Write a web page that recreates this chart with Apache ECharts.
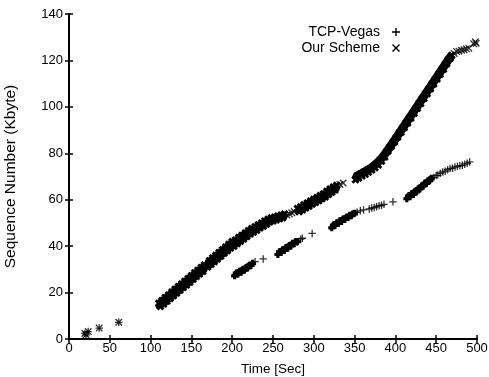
<!DOCTYPE html>
<html>
<head>
<meta charset="utf-8">
<script src="https://cdn.jsdelivr.net/npm/echarts@6/dist/echarts.min.js"></script>
<style>
    html,body{margin:0;padding:0;background:#fff;}
    #myChart{width:489px;height:377px;}
</style>
</head>
<body>
<div id="myChart"></div>
<script>
    var seriesNames = ['TCP-Vegas', 'Our Scheme'];
    var xTicks = [0, 50, 100, 150, 200, 250, 300, 350, 400, 450, 500];
    var yTicks = [0, 20, 40, 60, 80, 100, 120, 140];

    // [time (sec), sequence number (Kbyte)]
    // dense runs where the marks merge into a band, '-' = break between runs
    var vegasBand = [
        [203,27.2],[205,28.4],[207,28.0],[209,29.2],[211,28.8],[213,30.0],[215,29.6],[217,30.8],
        [219,30.6],[221,31.8],[223,31.7],[225,32.6],[240,'-'],
        [256,36.4],[258,37.6],[260,37.3],[262,38.5],[264,38.2],[266,39.4],[268,39.1],[270,40.3],
        [272,40.1],[274,41.2],[276,41.0],[278,42.0],[280,41.9],[300,'-'],
        [322,47.9],[324,49.1],[326,48.9],[328,50.0],[330,49.8],[332,50.9],[334,50.6],[336,51.7],
        [338,51.5],[340,52.5],[342,52.3],[344,53.3],[346,53.1],[348,54.0],[350,54.2],[400,'-'],
        [414,60.4],[416,61.6],[418,61.3],[420,62.6],[422,62.3],[424,63.6],[426,63.4],[428,64.7],
        [430,64.6],[432,65.9],[434,65.8],[436,67.1],[438,67.0],[440,68.2],[442,68.2],[444,69.3]
    ];
    // single marks
    var vegasMarks = [
        [19.5,2.4],[21,1.8],[23.5,3.2],[37,4.7],[61,7.2],
        [228,33.3],[238,34.5],[284,43.0],[286,43.4],[298,45.5],
        [353,54.6],[357,55.2],[361,55.6],[368,56.0],[371,56.4],[374,56.6],[377,57.0],[380,57.4],
        [383,57.6],[386,58.0],[397,59.1],
        [447,69.6],[450,70.4],[452,70.6],[455,71.4],[458,71.9],[461,72.3],[464,72.9],[467,73.4],
        [470,73.6],[473,74.1],[476,74.4],[479,74.6],[482,74.8],[485,75.3],[488,75.7],[491,76.3]
    ];

    var schemeBand = [
        [110,15.4],[112,14.0],[114,16.6],[116,15.1],[118,17.9],[120,16.3],[122,19.0],[124,17.4],
        [126,20.2],[128,18.6],[130,21.4],[132,19.8],[134,22.6],[136,21.0],[138,23.7],[140,22.2],
        [142,24.9],[144,23.3],[146,26.1],[148,24.5],[150,27.3],[152,25.7],[154,28.5],[156,26.9],
        [158,29.6],[160,28.0],[162,30.8],[164,29.2],[166,31.9],
        [170,31.0],[172,33.7],[174,32.2],[176,34.9],[178,33.3],[180,36.1],[182,34.5],[184,37.3],
        [186,35.7],[188,38.4],[190,36.9],[192,39.6],[194,38.0],[196,40.8],[198,39.2],[200,42.0],
        [202,40.0],[204,42.7],[206,41.0],[208,43.7],[210,42.1],[212,44.7],[214,43.1],[216,45.7],
        [218,44.2],[220,46.7],[222,45.2],[224,47.6],[226,46.0],[228,48.4],[230,46.9],[232,49.2],
        [234,47.8],[236,50.0],[238,48.6],[240,50.8],[242,49.4],[244,51.6],[246,50.4],[248,52.2],
        [250,50.8],[252,52.6],[254,51.3],[256,53.0],[258,51.8],[260,53.4],[262,52.2],[264,53.8],[270,'-'],
        [280,56.2],[282,54.8],[284,57.0],[286,55.6],[288,57.8],[290,56.4],[292,58.6],[294,57.2],
        [296,59.4],[298,58.0],[300,60.2],[302,58.8],[304,61.0],[306,59.6],[308,61.8],[310,60.4],
        [312,62.6],[314,61.2],[316,63.6],[318,62.2],[320,64.6],[322,63.2],[324,65.5],[326,64.2],
        [328,66.2],[340,'-'],
        [351,68.6],[353,70.2],[355,69.4],[357,71.0],[359,70.2],[361,71.8],[363,71.0],[365,72.6],
        [367,71.8],[369,73.4],[371,72.8],[373,74.4],[375,73.8],[377,75.6],[379,75.0],[381,77.0],
        [383,76.6],[385,78.6],[387,78.4],
        [389,80.6],[391,81.0],[393,82.6],[395,83.0],[397,84.6],[399,85.0],[401,86.7],[403,87.0],
        [405,88.8],[407,89.1],[409,90.9],[411,91.1],[413,93.0],[415,93.1],[417,95.1],[419,95.2],
        [421,97.2],[423,97.3],[425,99.3],[427,99.4],[429,101.4],[431,101.5],[433,103.5],[435,103.6],
        [437,105.6],[439,105.7],[441,107.7],[443,107.8],[445,109.8],[447,109.9],[449,111.9],[451,112.0],
        [453,114.0],[455,114.1],[457,116.1],[459,116.2],[461,118.2],[463,118.6],[465,120.4],[467,120.8],
        [469,122.2]
    ];
    var schemeMarks = [
        [19.5,2.4],[21,1.8],[23.5,3.2],[37,4.7],[61,7.2],
        [267,53.4],[270,53.9],[273,54.4],[276,54.9],
        [332,66.6],[336,67.2],
        [472,123.0],[475,123.8],[478,124.0],[481,124.4],[484,124.6],[487,125.0],[490,125.3],
        [496,127.2],[498,128.0],[499,127.4]
    ];

    // filled plus / cross outlines, 8x8 box
    var fatPlus = 'path://M2.2,0H5.8V2.2H8V5.8H5.8V8H2.2V5.8H0V2.2H2.2Z';
    var fatCross = 'path://M0,2L2,0L4,2L6,0L8,2L6,4L8,6L6,8L4,6L2,8L0,6L2,4Z';
    var thinPlus = 'path://M3.3,0H4.7V3.3H8V4.7H4.7V8H3.3V4.7H0V3.3H3.3Z';
    var thinCross = 'path://M0,1L1,0L4,3L7,0L8,1L5,4L8,7L7,8L4,5L1,8L0,7L3,4Z';

    var font = 'Liberation Sans, Arial, sans-serif';
    var axisLine = {show: true, lineStyle: {color: '#000', width: 2}};
    var axisTick = {show: true, inside: true, length: 4, lineStyle: {color: '#000', width: 1.5}};

    var option = {
        backgroundColor: '#fff',
        animation: false,
        grid: {left: 69, right: 12, top: 14, bottom: 38, outerBoundsMode: 'none'},
        legend: {
            orient: 'vertical',
            right: 84,
            top: 20,
            align: 'right',
            itemWidth: 8,
            itemHeight: 8,
            itemGap: 2,
            textStyle: {fontFamily: font, fontSize: 14, color: '#000', padding: [0, 7, 0, 0]},
            data: [
                {name: seriesNames[0], icon: thinPlus},
                {name: seriesNames[1], icon: thinCross}
            ]
        },
        xAxis: [{
            type: 'value', min: xTicks[0], max: xTicks[xTicks.length - 1], interval: 50,
            name: 'Time [Sec]', nameLocation: 'middle', nameGap: 23,
            nameTextStyle: {fontFamily: font, fontSize: 13.5, color: '#000'},
            axisLine: axisLine, axisTick: axisTick, splitLine: {show: false},
            axisLabel: {fontFamily: font, fontSize: 13, color: '#000', margin: 3}
        }, {
            type: 'value', position: 'top', min: xTicks[0], max: xTicks[xTicks.length - 1], interval: 50,
            axisLine: axisLine, axisTick: axisTick, splitLine: {show: false}, axisLabel: {show: false}
        }],
        yAxis: [{
            type: 'value', min: yTicks[0], max: yTicks[yTicks.length - 1], interval: 20,
            name: 'Sequence Number (Kbyte)', nameLocation: 'middle', nameGap: 50,
            nameTextStyle: {fontFamily: font, fontSize: 15.5, color: '#000'},
            axisLine: axisLine, axisTick: axisTick, splitLine: {show: false},
            axisLabel: {fontFamily: font, fontSize: 13, color: '#000', margin: 6}
        }, {
            type: 'value', position: 'right', min: yTicks[0], max: yTicks[yTicks.length - 1], interval: 20,
            axisLine: axisLine, axisTick: axisTick, splitLine: {show: false}, axisLabel: {show: false}
        }],
        series: [{
            // dense vegas runs: marks plus a thick stroke so they read as one solid band
            name: seriesNames[0], type: 'line',
            symbol: fatPlus, symbolSize: 7, showSymbol: true, showAllSymbol: true,
            connectNulls: false,
            lineStyle: {color: '#000', width: 5.5},
            itemStyle: {color: '#000'},
            data: vegasBand
        }, {
            name: seriesNames[0], type: 'scatter',
            symbol: thinPlus, symbolSize: 7.5,
            itemStyle: {color: '#000'},
            data: vegasMarks
        }, {
            name: seriesNames[1], type: 'line',
            symbol: fatCross, symbolSize: 8, showSymbol: true, showAllSymbol: true,
            connectNulls: false,
            lineStyle: {color: '#000', width: 8.5},
            itemStyle: {color: '#000'},
            data: schemeBand
        }, {
            name: seriesNames[1], type: 'scatter',
            symbol: thinCross, symbolSize: 7.5,
            itemStyle: {color: '#000'},
            data: schemeMarks
        }]
    };

    var myChart = echarts.init(document.getElementById('myChart'));
    myChart.setOption(option);
</script>
</body>
</html>
